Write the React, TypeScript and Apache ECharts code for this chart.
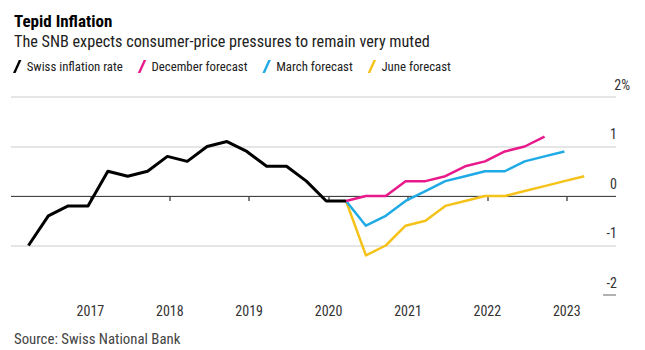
import React, { useEffect, useRef } from "react";
import * as echarts from "echarts";

const quarters = [
  "2016Q1","2016Q2","2016Q3","2016Q4",
  "2017Q1","2017Q2","2017Q3","2017Q4",
  "2018Q1","2018Q2","2018Q3","2018Q4",
  "2019Q1","2019Q2","2019Q3","2019Q4",
  "2020Q1","2020Q2","2020Q3","2020Q4",
  "2021Q1","2021Q2","2021Q3","2021Q4",
  "2022Q1","2022Q2","2022Q3","2022Q4",
  "2023Q1",
];

const swissInflation = [-1.0, -0.4, -0.2, -0.2, 0.5, 0.4, 0.5, 0.8, 0.7, 1.0, 1.1, 0.9, 0.6, 0.6, 0.3, -0.1, -0.1];
// forecasts start at the last observed quarter (index 16)
const forecastStart = 16;
const decemberForecast = [-0.1, 0.0, 0.0, 0.3, 0.3, 0.4, 0.6, 0.7, 0.9, 1.0, 1.2];
const marchForecast = [-0.1, -0.6, -0.4, -0.1, 0.1, 0.3, 0.4, 0.5, 0.5, 0.7, 0.8, 0.9];
const juneForecast = [-0.1, -1.2, -1.0, -0.6, -0.5, -0.2, -0.1, 0.0, 0.0, 0.1, 0.2, 0.3, 0.4];

const yearTicks = [2017, 2018, 2019, 2020, 2021, 2022, 2023];

const FONT = '"Roboto Condensed", "Liberation Sans Narrow", Roboto, sans-serif';

function quarterToX(q: string): number {
  const year = parseInt(q.slice(0, 4), 10);
  const qi = parseInt(q.slice(5), 10);
  return year + (qi - 1) * 0.25 + 0.22;
}

function toPairs(values: number[], start: number): [number, number][] {
  return values.map((v, i) => [quarterToX(quarters[start + i]), v]);
}

export default function App() {
  const ref = useRef<HTMLDivElement>(null);
  useEffect(() => {
    if (!ref.current) return;
    const chart = echarts.init(ref.current, undefined, { renderer: "svg" });
    const lineSeries = (name: string, data: [number, number][], color: string, width: number, z: number) => ({
      name,
      type: "line",
      data,
      showSymbol: false,
      symbol: "none",
      lineStyle: { color, width, join: "round" },
      itemStyle: { color },
      z,
    });
    chart.setOption({
      animation: false,
      textStyle: { fontFamily: FONT },
      title: [
        {
          text: "Tepid Inflation",
          left: 9,
          top: 7,
          textStyle: { fontFamily: FONT, fontSize: 17, fontWeight: "bold", color: "#000" },
        },
        {
          text: "The SNB expects consumer-price pressures to remain very muted",
          left: 9,
          top: 28,
          textStyle: { fontFamily: FONT, fontSize: 16.2, fontWeight: "normal", color: "#222" },
        },
        {
          text: "Source: Swiss National Bank",
          left: 9,
          top: 326,
          padding: [5, 5, 2, 5],
          textStyle: { fontFamily: FONT, fontSize: 14.8, fontWeight: "normal", color: "#444" },
        },
      ],
      legend: {
        left: 8,
        top: 55,
        itemWidth: 9,
        itemHeight: 13,
        itemGap: 15,
        icon: "path://M0,20 L9,0 L13,0 L4,20 Z",
        textStyle: { fontFamily: FONT, fontSize: 12.8, color: "#222" },
        data: ["Swiss inflation rate", "December forecast", "March forecast", "June forecast"],
      },
      grid: { left: 11, right: 29, top: 97, bottom: 55 },
      xAxis: {
        type: "value",
        min: 2016,
        max: 2023.62,
        axisLine: { show: false },
        splitLine: { show: false },
        axisTick: {
          show: true,
          customValues: yearTicks,
          length: 5,
          lineStyle: { color: "#555", width: 1.5 },
        },
        axisLabel: {
          customValues: yearTicks,
          margin: 9,
          fontSize: 14,
          color: "#333",
          fontFamily: FONT,
          formatter: (v: number) => String(Math.round(v)),
        },
      },
      yAxis: {
        type: "value",
        position: "right",
        min: -2,
        max: 2,
        interval: 1,
        axisLine: { show: false },
        axisTick: { show: false },
        splitLine: { show: true, showMinLine: false, lineStyle: { color: "#dcdcdc", width: 1.5 } },
        axisLabel: {
          margin: 14,
          align: "right",
          verticalAlign: "bottom",
          fontFamily: FONT,
          fontSize: 14,
          color: "#333",
          formatter: (v: number) => (v === 2 ? "{a|2%}" : "{b|" + v + "}"),
          rich: {
            a: { fontFamily: FONT, fontSize: 14, color: "#333", lineHeight: 14, padding: [0, 0, 11, 0] },
            b: { fontFamily: FONT, fontSize: 14, color: "#333", lineHeight: 14, padding: [0, 13, 11, 0] },
          },
        },
      },
      graphic: [
        {
          type: "line",
          shape: { x1: 603, y1: 295, x2: 616, y2: 295 },
          style: { stroke: "#999", lineWidth: 1.5 },
        },
      ],
      series: [
        {
          ...lineSeries("Swiss inflation rate", toPairs(swissInflation, 0), "#000000", 3, 5),
          markLine: {
            silent: true,
            symbol: "none",
            label: { show: false },
            lineStyle: { color: "#444", width: 1, type: "solid" },
            data: [{ yAxis: 0 }],
            z: 1,
          },
        },
        lineSeries("December forecast", toPairs(decemberForecast, forecastStart), "#e8198b", 2.5, 4),
        lineSeries("March forecast", toPairs(marchForecast, forecastStart), "#1faae6", 2.5, 3),
        lineSeries("June forecast", toPairs(juneForecast, forecastStart), "#f5c21a", 2.5, 2),
      ],
    });
    return () => chart.dispose();
  }, []);
  return <div ref={ref} style={{ width: 645, height: 350, position: "absolute", left: 0, top: 0 }} />;
}
